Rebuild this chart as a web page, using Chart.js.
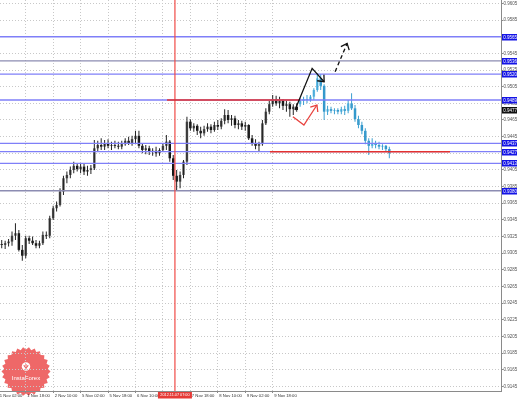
<!DOCTYPE html>
<html><head><meta charset="utf-8">
<script src="https://cdn.jsdelivr.net/npm/chart.js@4"></script>
<style>html,body{margin:0;padding:0;background:#fff;overflow:hidden}canvas{display:block}</style>
</head><body>
<canvas id="c" width="519" height="399"></canvas>
<script>
// ---- candles before the forecast (2-hour slots) ----
const histOpen = [0.9316,0.9315,0.9317,0.9319,0.9326,0.9329,0.9309,0.9302,0.9323,0.9320,
0.9317,0.9314,0.9317,0.9327,0.9326,0.9347,0.9359,0.9363,0.9379,0.9395,
0.9399,0.9405,0.9410,0.9406,0.9409,0.9403,0.9405,0.9407,0.9431,0.9435,
0.9433,0.9437,0.9434,0.9435,0.9434,0.9433,0.9436,0.9440,0.9437,0.9442,
0.9446,0.9434,0.9429,0.9431,0.9427,0.9428,0.9425,0.9429,0.9434,0.9439,
0.9419,0.9398,0.9391,0.9399,0.9415,0.9463,0.9455,0.9458,0.9452,0.9449,
0.9454,0.9457,0.9453,0.9459,0.9457,0.9464,0.9471,0.9465,0.9467,0.9459,
0.9461,0.9457,0.9459,0.9443,0.9437,0.9434,0.9436,0.9461,0.9475,0.9484,
0.9490,0.9485,0.9488,0.9482,0.9484,0.9478,0.9481];
const histHigh = [0.9321,0.9320,0.9322,0.9331,0.9341,0.9333,0.9315,0.9326,0.9326,0.9325,
0.9321,0.9320,0.9331,0.9331,0.9350,0.9362,0.9367,0.9383,0.9398,0.9403,
0.9409,0.9415,0.9413,0.9412,0.9412,0.9410,0.9411,0.9441,0.9440,0.9443,
0.9441,0.9442,0.9439,0.9440,0.9439,0.9440,0.9443,0.9445,0.9446,0.9452,
0.9452,0.9437,0.9435,0.9434,0.9431,0.9433,0.9431,0.9437,0.9447,0.9441,
0.9423,0.9405,0.9403,0.9417,0.9469,0.9466,0.9461,0.9460,0.9457,0.9458,
0.9461,0.9460,0.9463,0.9465,0.9467,0.9478,0.9477,0.9471,0.9470,0.9465,
0.9464,0.9463,0.9460,0.9447,0.9442,0.9439,0.9465,0.9479,0.9488,0.9495,
0.9494,0.9493,0.9490,0.9488,0.9487,0.9484,0.9485];
const histLow = [0.9311,0.9310,0.9313,0.9314,0.9321,0.9307,0.9296,0.9299,0.9316,0.9315,
0.9311,0.9311,0.9315,0.9322,0.9323,0.9345,0.9355,0.9361,0.9375,0.9389,
0.9395,0.9401,0.9403,0.9401,0.9399,0.9398,0.9400,0.9405,0.9427,0.9429,
0.9429,0.9431,0.9429,0.9431,0.9430,0.9430,0.9434,0.9435,0.9434,0.9437,
0.9431,0.9425,0.9424,0.9423,0.9422,0.9421,0.9422,0.9427,0.9429,0.9415,
0.9393,0.9381,0.9383,0.9395,0.9411,0.9452,0.9451,0.9447,0.9443,0.9446,
0.9451,0.9449,0.9451,0.9453,0.9454,0.9460,0.9461,0.9458,0.9455,0.9454,
0.9453,0.9452,0.9441,0.9434,0.9430,0.9427,0.9434,0.9459,0.9472,0.9481,
0.9482,0.9479,0.9477,0.9475,0.9469,0.9471,0.9475];
const histClose = [0.9315,0.9317,0.9319,0.9326,0.9329,0.9309,0.9302,0.9323,0.9320,0.9317,
0.9314,0.9317,0.9327,0.9326,0.9347,0.9359,0.9363,0.9379,0.9395,0.9399,
0.9405,0.9410,0.9406,0.9409,0.9403,0.9405,0.9407,0.9431,0.9435,0.9433,
0.9437,0.9434,0.9435,0.9434,0.9433,0.9436,0.9440,0.9437,0.9442,0.9446,
0.9434,0.9429,0.9431,0.9427,0.9428,0.9425,0.9429,0.9434,0.9439,0.9419,
0.9398,0.9391,0.9399,0.9415,0.9463,0.9455,0.9458,0.9452,0.9449,0.9454,
0.9457,0.9453,0.9459,0.9457,0.9464,0.9471,0.9465,0.9467,0.9459,0.9461,
0.9457,0.9459,0.9443,0.9437,0.9434,0.9436,0.9461,0.9475,0.9484,0.9490,
0.9485,0.9488,0.9482,0.9484,0.9478,0.9481,0.9477];

// ---- actual price after the forecast (cyan) ----
const actOpen  = [0.9484,0.9488,0.9490,0.9489,0.9493,0.9501,0.9515,0.9506,0.9475,0.9478,0.9476,0.9477,0.9475,0.9478,0.9476,0.9485,0.9479,0.9466,0.9459,0.9452,0.9440,0.9434,0.9437,0.9435,0.9433,0.9434,0.9430];
const actHigh  = [0.9491,0.9493,0.9495,0.9495,0.9503,0.9521,0.9520,0.9508,0.9482,0.9481,0.9479,0.9479,0.9481,0.9482,0.9489,0.9497,0.9483,0.9470,0.9463,0.9455,0.9443,0.9443,0.9440,0.9439,0.9436,0.9435,0.9433];
const actLow   = [0.9481,0.9483,0.9485,0.9487,0.9489,0.9499,0.9501,0.9465,0.9471,0.9473,0.9472,0.9472,0.9472,0.9471,0.9473,0.9477,0.9463,0.9455,0.9448,0.9436,0.9423,0.9431,0.9431,0.9430,0.9429,0.9427,0.9419];
const actClose = [0.9488,0.9490,0.9489,0.9493,0.9501,0.9515,0.9506,0.9475,0.9478,0.9476,0.9477,0.9475,0.9478,0.9476,0.9485,0.9479,0.9466,0.9459,0.9452,0.9440,0.9434,0.9437,0.9435,0.9433,0.9434,0.9430,0.9425];

// ---- axes ----
const yTickValues = [0.9145,0.9165,0.9185,0.9205,0.9225,0.9245,0.9265,0.9285,0.9305,0.9325,0.9345,0.9365,
0.9385,0.9405,0.9425,0.9445,0.9465,0.9485,0.9505,0.9525,0.9545,0.9565,0.9585,0.9605];
const xTickSlots = [-1, 7, 15, 23, 31, 39, 47, 55, 63, 71, 79];
const xTickText = ['1 Nov 02:00','1 Nov 18:00','2 Nov 10:00','5 Nov 02:00','5 Nov 18:00','6 Nov 10:00',
'7 Nov 02:00','7 Nov 18:00','8 Nov 10:00','9 Nov 02:00','9 Nov 18:00'];

// ---- drawn objects ----
const blueLevels = [0.9565, 0.9520, 0.9489, 0.9437, 0.9427, 0.9413];
const grayLevels = [0.9536, 0.9380];
const boxLevels  = [0.9565, 0.9536, 0.9520, 0.9489, 0.9437, 0.9427, 0.9413, 0.9380];
const lastPrice = 0.9477;
const redLevels = [0.9489, 0.9427];
const redFrom   = [48.2, 78.2];
const redTo     = [87.0, 130.7];
const markerSlot = 50.5;
const markerText = '2012.11.07 07:00';
const solidArrowX = [85.5, 90.5, 94.0];
const solidArrowY = [0.9477, 0.9527, 0.9511];
const dashArrowX = [97.2, 100.7];
const dashArrowY = [0.9523, 0.9557];
const redArrowX = [84.9, 88.1, 91.9];
const redArrowY = [0.9469, 0.9459, 0.9483];

const FONT = '"Liberation Sans", Arial, sans-serif';
Chart.defaults.font.family = FONT;

const actStart = histOpen.length;
const wick = (lo, hi, s) => lo.map((l, i) => ({x: s + i, y: [l, hi[i]]}));
const body = (op, cl, s) => op.map((o, i) => ({x: s + i, y: [o, cl[i]]}));

function arrowPath(ctx, xs, ys, sx, sy, color, width, dash) {
  const pts = xs.map((v, i) => [sx.getPixelForValue(v), sy.getPixelForValue(ys[i])]);
  ctx.save();
  ctx.strokeStyle = color; ctx.lineWidth = width; ctx.setLineDash(dash);
  ctx.beginPath();
  pts.forEach((p, i) => i ? ctx.lineTo(p[0], p[1]) : ctx.moveTo(p[0], p[1]));
  ctx.stroke();
  ctx.setLineDash([]);
  const P = pts[pts.length - 1], Q = pts[pts.length - 2];
  const ang = Math.atan2(P[1] - Q[1], P[0] - Q[0]) + Math.PI;
  ctx.beginPath();
  ctx.moveTo(P[0] + 7 * Math.cos(ang - 0.7), P[1] + 7 * Math.sin(ang - 0.7));
  ctx.lineTo(P[0], P[1]);
  ctx.lineTo(P[0] + 7 * Math.cos(ang + 0.7), P[1] + 7 * Math.sin(ang + 0.7));
  ctx.stroke();
  ctx.restore();
}

function drawLogo(ctx) {
  const cx = 26, cy = 371.5, r = 22;
  ctx.save();
  ctx.fillStyle = 'rgba(236, 88, 88, 0.9)';
  ctx.beginPath();
  const n = 26;
  for (let k = 0; k <= 2 * n; k++) {
    const a = k * Math.PI / n, rr = (k % 2) ? r : r + 2.5;
    const px = cx + rr * Math.cos(a), py = cy + rr * Math.sin(a);
    k ? ctx.lineTo(px, py) : ctx.moveTo(px, py);
  }
  ctx.closePath(); ctx.fill();
  ctx.fillStyle = '#fff';
  ctx.beginPath(); ctx.arc(cx, cy - 5, 4.2, 0, Math.PI * 2); ctx.fill();
  ctx.strokeStyle = 'rgba(236, 88, 88, 1)'; ctx.lineWidth = 1;
  ctx.beginPath(); ctx.moveTo(cx, cy - 7.5); ctx.lineTo(cx, cy - 2);
  ctx.moveTo(cx - 2, cy - 6.5); ctx.quadraticCurveTo(cx - 2, cy - 4, cx, cy - 4); ctx.quadraticCurveTo(cx + 2, cy - 4, cx + 2, cy - 6.5);
  ctx.stroke();
  ctx.fillStyle = '#fff'; ctx.font = '6px ' + FONT; ctx.textAlign = 'center'; ctx.textBaseline = 'middle';
  ctx.fillText('InstaForex', cx, cy + 6.5);
  ctx.restore();
}

const overlay = {
  id: 'overlay',
  beforeDraw(chart) { drawLogo(chart.ctx); },
  afterDatasetsDraw(chart) {
    const {ctx, chartArea: a, scales: {x, y}} = chart;
    ctx.save();
    ctx.beginPath(); ctx.rect(a.left, a.top, a.right - a.left, a.bottom - a.top); ctx.clip();
    const hline = (p, color, w, x0, x1) => {
      const py = y.getPixelForValue(p);
      ctx.strokeStyle = color; ctx.lineWidth = w;
      ctx.beginPath(); ctx.moveTo(x0, py); ctx.lineTo(x1, py); ctx.stroke();
    };
    blueLevels.forEach(p => hline(p, '#7f7ff8', 1.3, a.left, a.right));
    grayLevels.forEach(p => hline(p, '#8c8cb2', 1.3, a.left, a.right));
    const vx = x.getPixelForValue(markerSlot);
    ctx.strokeStyle = '#f04a46'; ctx.lineWidth = 1.2;
    ctx.beginPath(); ctx.moveTo(vx, a.top); ctx.lineTo(vx, a.bottom); ctx.stroke();
    redLevels.forEach((p, i) => hline(p, '#e3322f', 1.5, x.getPixelForValue(redFrom[i]), x.getPixelForValue(redTo[i])));
    arrowPath(ctx, solidArrowX, solidArrowY, x, y, '#111', 1.3, []);
    arrowPath(ctx, dashArrowX, dashArrowY, x, y, '#111', 1.3, [4, 3]);
    arrowPath(ctx, redArrowX, redArrowY, x, y, '#e8433f', 1.3, []);
    ctx.restore();
  },
  afterDraw(chart) {
    const {ctx, chartArea: a, scales: {x, y}} = chart;
    ctx.save();
    // first (partly hidden) time label, left of the plot start
    ctx.font = '4.2px ' + FONT; ctx.fillStyle = '#333'; ctx.textAlign = 'left'; ctx.textBaseline = 'top';
    ctx.fillText(xTickText[0], x.getPixelForValue(xTickSlots[0]) + 1.5, a.bottom + 2.3);
    ctx.font = '4.5px ' + FONT; ctx.textBaseline = 'middle';
    const box = (p, fill) => {
      const py = y.getPixelForValue(p);
      ctx.fillStyle = fill; ctx.fillRect(a.right + 1, Math.round(py) - 3, 15, 6.5);
      ctx.fillStyle = '#fff'; ctx.fillText(p.toFixed(4), a.right + 2.3, Math.round(py) + 0.3);
    };
    boxLevels.forEach(p => box(p, '#1414e6'));
    box(lastPrice, '#111');
    const mx = x.getPixelForValue(markerSlot);
    ctx.fillStyle = '#e63a36'; ctx.fillRect(mx - 17, a.bottom + 1, 34, 6.5);
    ctx.fillStyle = '#fff'; ctx.font = '3.8px ' + FONT; ctx.textAlign = 'center';
    ctx.fillText(markerText, mx, a.bottom + 4.4);
    ctx.restore();
  }
};

const bull = (o, c) => c >= o;
new Chart(document.getElementById('c'), {
  type: 'bar',
  data: { datasets: [
    { data: wick(histLow, histHigh, 0), backgroundColor: '#222', maxBarThickness: 1, grouped: false },
    { data: body(histOpen, histClose, 0), maxBarThickness: 2.6, grouped: false,
      backgroundColor: c => bull(histOpen[c.dataIndex], histClose[c.dataIndex]) ? '#5c5c5c' : '#111' },
    { data: wick(actLow, actHigh, actStart), backgroundColor: '#3b9fd0', maxBarThickness: 1, grouped: false },
    { data: body(actOpen, actClose, actStart), maxBarThickness: 2.6, grouped: false,
      backgroundColor: c => bull(actOpen[c.dataIndex], actClose[c.dataIndex]) ? '#6cc2ea' : '#2e93c8' }
  ]},
  options: {
    responsive: false, animation: false, devicePixelRatio: 1,
    layout: { padding: 0 },
    plugins: { legend: { display: false }, tooltip: { enabled: false } },
    scales: {
      x: {
        type: 'linear', min: -0.5, max: 145.56, offset: false,
        grid: { offset: false, color: '#c8c8c8', tickColor: '#8a8a8a', tickLength: 2 },
        border: { color: '#8a8a8a', dash: [1, 2] },
        afterBuildTicks: s => { s.ticks = xTickSlots.slice(1).map(v => ({ value: v })); },
        ticks: { autoSkip: false, maxRotation: 0, minRotation: 0, align: 'start', padding: 0, labelOffset: 1.5,
          color: '#333', font: { size: 4.2 },
          callback: v => xTickText[xTickSlots.indexOf(v)] },
        afterFit: s => { s.height = 8; }
      },
      y: {
        position: 'right', min: 0.91395, max: 0.96091,
        grid: { color: '#c8c8c8', tickColor: '#8a8a8a', tickLength: 2.5 },
        border: { color: '#8a8a8a', dash: [1, 2] },
        afterBuildTicks: s => { s.ticks = yTickValues.map(v => ({ value: v })); },
        ticks: { padding: 0, color: '#555', font: { size: 4.5, lineHeight: 0.01 }, callback: v => v.toFixed(4) },
        afterFit: s => { s.width = 18; }
      }
    }
  },
  plugins: [overlay]
});
</script>
</body></html>
